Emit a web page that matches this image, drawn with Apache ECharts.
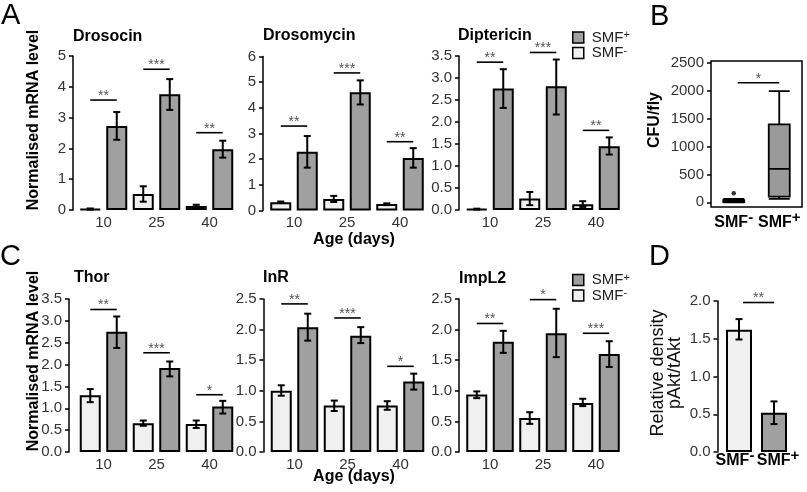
<!DOCTYPE html>
<html>
<head>
<meta charset="utf-8">
<script src="https://cdn.jsdelivr.net/npm/echarts@6/dist/echarts.min.js"></script>
<style>html,body{margin:0;padding:0;background:#fff;}#c{width:807px;height:492px;}</style>
</head>
<body>
<div id="c"></div>
<script>
// ---------- DATA ----------
const ages = ['10', '25', '40'];
const groups = ['SMF-', 'SMF+'];

// Panel A
const drosocinMinus = [0.03, 0.52, 0.13];
const drosocinMinusErr = [[0.01, 0.05], [0.27, 0.77], [0.10, 0.17]];
const drosocinPlus = [2.73, 3.76, 1.97];
const drosocinPlusErr = [[2.28, 3.18], [3.25, 4.25], [1.70, 2.25]];
const drosocinSig = [3.57, 4.57, 2.51];
const drosocinStars = ['**', '***', '**'];

const drosomycinMinus = [0.32, 0.45, 0.25];
const drosomycinMinusErr = [[0.29, 0.35], [0.33, 0.57], [0.21, 0.28]];
const drosomycinPlus = [2.29, 4.61, 2.05];
const drosomycinPlusErr = [[1.67, 2.90], [4.13, 5.07], [1.67, 2.43]];
const drosomycinSig = [3.29, 5.36, 2.68];
const drosomycinStars = ['**', '***', '**'];

const diptericinMinus = [0.02, 0.26, 0.13];
const diptericinMinusErr = [[0.01, 0.03], [0.11, 0.41], [0.07, 0.20]];
const diptericinPlus = [2.76, 2.81, 1.45];
const diptericinPlusErr = [[2.32, 3.20], [2.17, 3.42], [1.26, 1.65]];
const diptericinSig = [3.36, 3.58, 1.81];
const diptericinStars = ['**', '***', '**'];

// Panel B
const cfuBoxes = [[0, 5, 20, 40, 60], [60, 100, 600, 1400, 2000]];
const cfuOutliers = [[0, 160]];
const cfuSig = [2150];
const cfuStars = ['*'];
const cfuTicks = [0, 500, 1000, 1500, 2000, 2500];

// Panel C
const thorMinus = [1.30, 0.655, 0.64];
const thorMinusErr = [[1.14, 1.44], [0.60, 0.72], [0.55, 0.72]];
const thorPlus = [2.75, 1.92, 1.04];
const thorPlusErr = [[2.38, 3.10], [1.73, 2.07], [0.88, 1.17]];
const thorSig = [3.26, 2.27, 1.31];
const thorStars = ['**', '***', '*'];

const inrMinus = [1.00, 0.76, 0.76];
const inrMinusErr = [[0.92, 1.09], [0.67, 0.84], [0.69, 0.83]];
const inrPlus = [2.04, 1.90, 1.15];
const inrPlusErr = [[1.82, 2.26], [1.78, 2.04], [1.02, 1.28]];
const inrSig = [2.42, 2.19, 1.40];
const inrStars = ['**', '***', '*'];

const impl2Minus = [0.94, 0.555, 0.80];
const impl2MinusErr = [[0.88, 0.99], [0.46, 0.65], [0.75, 0.87]];
const impl2Plus = [1.80, 1.94, 1.60];
const impl2PlusErr = [[1.62, 1.98], [1.55, 2.34], [1.39, 1.81]];
const impl2Sig = [2.10, 2.49, 1.94];
const impl2Stars = ['**', '*', '***'];

// Panel D
const aktValues = [1.62, 0.52];
const aktErr = [[1.49, 1.76], [0.37, 0.67]];
const aktSig = [1.98];
const aktStars = ['**'];

// ---------- STYLE / LAYOUT ----------
const FONT = '"Liberation Sans", Arial, sans-serif';
const WHITE = '#f0f0f0', GRAY = '#a0a0a0';
const BAR_W = 21, BAR_GAP_PX = 5.5;
const OFF = (BAR_W + BAR_GAP_PX) / 2;

const grouped = [
  {minus: drosocinMinus, minusErr: drosocinMinusErr, plus: drosocinPlus, plusErr: drosocinPlusErr, sig: drosocinSig, stars: drosocinStars,
   grid: {left: 77, top: 56, width: 159, height: 154}, max: 5, interval: 1, dec: 0, offset: 4, xMargin: 5},
  {minus: drosomycinMinus, minusErr: drosomycinMinusErr, plus: drosomycinPlus, plusErr: drosomycinPlusErr, sig: drosomycinSig, stars: drosomycinStars,
   grid: {left: 267.5, top: 56.5, width: 159, height: 154}, max: 6, interval: 1, dec: 0, offset: 4.5, xMargin: 5},
  {minus: diptericinMinus, minusErr: diptericinMinusErr, plus: diptericinPlus, plusErr: diptericinPlusErr, sig: diptericinSig, stars: diptericinStars,
   grid: {left: 463.5, top: 56, width: 159, height: 154}, max: 3.5, interval: 0.5, dec: 1, offset: 4.5, xMargin: 5},
  {minus: thorMinus, minusErr: thorMinusErr, plus: thorPlus, plusErr: thorPlusErr, sig: thorSig, stars: thorStars,
   grid: {left: 77, top: 299, width: 159, height: 153}, max: 3.5, interval: 0.5, dec: 1, offset: 8, xMargin: 5},
  {minus: inrMinus, minusErr: inrMinusErr, plus: inrPlus, plusErr: inrPlusErr, sig: inrSig, stars: inrStars,
   grid: {left: 268, top: 299, width: 159, height: 153}, max: 2.5, interval: 0.5, dec: 1, offset: 4.5, xMargin: 5},
  {minus: impl2Minus, minusErr: impl2MinusErr, plus: impl2Plus, plusErr: impl2PlusErr, sig: impl2Sig, stars: impl2Stars,
   grid: {left: 463.5, top: 299, width: 159, height: 153}, max: 2.5, interval: 0.5, dec: 1, offset: 4.5, xMargin: 5}
];

const tickLabelStyle = {color: '#333', fontSize: 15, fontFamily: FONT};
const smfRich = {
  m: {fontSize: 16, fontWeight: 'bold', fontFamily: FONT, color: '#000', lineHeight: 18},
  s: {fontSize: 15, fontWeight: 'bold', fontFamily: FONT, color: '#000', lineHeight: 15, padding: [0, 0, 10, 0]}
};
const smfFormatter = v => '{m|SMF}{s|' + (v === 'SMF-' ? '-' : '+') + '}';
// category items with a small horizontal nudge (label padding)
function smfCats(shift) {
  return groups.map((g, i) => ({value: g, textStyle: {padding: i === 0 ? [0, shift, 0, 0] : [0, 0, 0, shift]}}));
}

function errRender(off) {
  return function (params, api) {
    const side = api.value(3);
    const p1 = api.coord([api.value(0), api.value(1)]);
    const p2 = api.coord([api.value(0), api.value(2)]);
    const x = p1[0] + side * off;
    const st = {stroke: '#000', lineWidth: 2};
    return {type: 'group', children: [
      {type: 'line', shape: {x1: x, y1: p1[1], x2: x, y2: p2[1]}, style: st},
      {type: 'line', shape: {x1: x - 3.5, y1: p1[1], x2: x + 3.5, y2: p1[1]}, style: st},
      {type: 'line', shape: {x1: x - 3.5, y1: p2[1], x2: x + 3.5, y2: p2[1]}, style: st}
    ]};
  };
}
function sigRender(stars, mode) {
  return function (params, api) {
    const c = api.coord([api.value(0), api.value(1)]);
    let x1, x2;
    if (mode === 'pair') {
      x1 = c[0] + 4; x2 = c[0] + api.size([1, 0])[0];
    } else {
      x1 = c[0] - OFF; x2 = c[0] + OFF;
    }
    const y = c[1];
    return {type: 'group', children: [
      {type: 'line', shape: {x1: x1, y1: y, x2: x2, y2: y}, style: {stroke: '#000', lineWidth: 1.6}},
      {type: 'text', x: (x1 + x2) / 2, y: y - 4, style: {text: stars[params.dataIndex], fill: '#555',
        font: '14px ' + FONT, align: 'center', verticalAlign: 'middle', textAlign: 'center', textVerticalAlign: 'middle'}}
    ]};
  };
}
function yAxisBase(gi) {
  return {
    type: 'value', gridIndex: gi, splitLine: {show: false},
    axisLine: {show: true, lineStyle: {color: '#000', width: 1.5}},
    axisTick: {show: true, length: 4, lineStyle: {color: '#000', width: 1.5}},
    axisLabel: Object.assign({margin: 7}, tickLabelStyle)
  };
}

const grids = [], xAxes = [], yAxes = [], series = [];

function addGrouped(p, gi) {
  grids.push(p.grid);
  xAxes.push({type: 'category', gridIndex: gi, data: ages, axisLine: {show: false}, axisTick: {show: false},
    axisLabel: Object.assign({margin: p.xMargin, interval: 0}, tickLabelStyle)});
  const ya = yAxisBase(gi);
  ya.min = 0; ya.max = p.max; ya.interval = p.interval; ya.offset = p.offset;
  ya.axisLabel.formatter = v => v.toFixed(p.dec);
  yAxes.push(ya);
  series.push({type: 'bar', name: 'SMF-', xAxisIndex: gi, yAxisIndex: gi, data: p.minus, barWidth: BAR_W, barGap: (BAR_GAP_PX / BAR_W * 100) + '%',
    itemStyle: {color: WHITE, borderColor: '#000', borderWidth: 2}});
  series.push({type: 'bar', name: 'SMF+', xAxisIndex: gi, yAxisIndex: gi, data: p.plus, barWidth: BAR_W, barGap: (BAR_GAP_PX / BAR_W * 100) + '%',
    itemStyle: {color: GRAY, borderColor: '#000', borderWidth: 2}});
  const errData = p.minusErr.map((e, i) => [i, e[0], e[1], -1]).concat(p.plusErr.map((e, i) => [i, e[0], e[1], 1]));
  series.push({type: 'custom', xAxisIndex: gi, yAxisIndex: gi, data: errData, renderItem: errRender(OFF), z: 5, silent: true});
  series.push({type: 'custom', xAxisIndex: gi, yAxisIndex: gi, data: p.sig.map((y, i) => [i, y]), renderItem: sigRender(p.stars, 'group'), z: 5, silent: true});
}

// A1..A3 -> grids 0..2
addGrouped(grouped[0], 0);
addGrouped(grouped[1], 1);
addGrouped(grouped[2], 2);

// B -> grid 3
grids.push({left: 711, top: 61, width: 91, height: 146, show: true, borderColor: '#000', borderWidth: 1.5, backgroundColor: 'transparent'});
xAxes.push({type: 'category', gridIndex: 3, data: smfCats(0), axisLine: {show: false}, axisTick: {show: false},
  axisLabel: {margin: 7, interval: 0, hideOverlap: false, verticalAlign: 'middle', formatter: smfFormatter, rich: smfRich}});
(function () {
  const ya = yAxisBase(3);
  ya.min = -85; ya.max = 2540;
  ya.axisLine = {show: false};
  ya.axisTick.customValues = cfuTicks;
  ya.axisLabel.customValues = cfuTicks;
  ya.axisLabel.formatter = v => String(v);
  yAxes.push(ya);
})();
series.push({type: 'boxplot', xAxisIndex: 3, yAxisIndex: 3, data: cfuBoxes, boxWidth: [21, 21],
  itemStyle: {color: '#9a9a9a', borderColor: '#000', borderWidth: 1.8}});
series.push({type: 'scatter', xAxisIndex: 3, yAxisIndex: 3, data: cfuOutliers, symbolSize: 4.5, itemStyle: {color: '#000'}});
series.push({type: 'custom', xAxisIndex: 3, yAxisIndex: 3, data: cfuSig.map(y => [0, y]), renderItem: sigRender(cfuStars, 'pair'), z: 5, silent: true});

// C1..C3 -> grids 4..6
addGrouped(grouped[3], 4);
addGrouped(grouped[4], 5);
addGrouped(grouped[5], 6);

// D -> grid 7
grids.push({left: 721.5, top: 301, width: 70, height: 151});
xAxes.push({type: 'category', gridIndex: 7, data: smfCats(8), axisLine: {show: false}, axisTick: {show: false},
  axisLabel: {margin: 0, interval: 0, hideOverlap: false, verticalAlign: 'middle', formatter: smfFormatter, rich: smfRich}});
(function () {
  const ya = yAxisBase(7);
  ya.min = 0; ya.max = 2; ya.interval = 0.5; ya.offset = 4;
  ya.axisLabel.formatter = v => v.toFixed(1);
  yAxes.push(ya);
})();
series.push({type: 'bar', name: 'pAkt', xAxisIndex: 7, yAxisIndex: 7, barWidth: 26,
  data: aktValues.map((v, i) => ({value: v, itemStyle: {color: i === 0 ? WHITE : GRAY}})),
  itemStyle: {borderColor: '#000', borderWidth: 2}});
series.push({type: 'custom', xAxisIndex: 7, yAxisIndex: 7, data: aktErr.map((e, i) => [i, e[0], e[1], 0]), renderItem: errRender(0), z: 5, silent: true});
series.push({type: 'custom', xAxisIndex: 7, yAxisIndex: 7, data: aktSig.map(y => [0, y]), renderItem: sigRender(aktStars, 'pair'), z: 5, silent: true});

// ---------- TEXT ----------
function txt(text, x, y, font, opts) {
  opts = opts || {};
  return {type: 'text', x: x, y: y, rotation: opts.rot || 0, silent: true,
    style: {text: text, font: font, fill: opts.fill || '#000', lineHeight: opts.lh,
      align: opts.align || 'left', textAlign: opts.align || 'left', verticalAlign: 'middle', textVerticalAlign: 'middle'}};
}
const letterFont = '29px ' + FONT;
const titleFont = 'bold 16px ' + FONT;
const graphics = [
  txt('A', 1, 16, letterFont), txt('B', 650, 17, letterFont), txt('C', 0, 257, letterFont), txt('D', 649, 257, letterFont),
  txt('Drosocin', 73, 37, titleFont), txt('Drosomycin', 263, 36, titleFont), txt('Diptericin', 458, 36, titleFont),
  txt('Thor', 74, 278, titleFont), txt('InR', 263, 278, titleFont), txt('ImpL2', 459, 279, titleFont),
  txt('Normalised mRNA level', 34, 120, 'bold 16px ' + FONT, {rot: Math.PI / 2, align: 'center'}),
  txt('Normalised mRNA level', 34, 361, 'bold 16px ' + FONT, {rot: Math.PI / 2, align: 'center'}),
  txt('Age (days)', 354, 240, 'bold 16px ' + FONT, {align: 'center'}),
  txt('Age (days)', 354, 477, 'bold 16px ' + FONT, {align: 'center'}),
  txt('CFU/fly', 655, 120, 'bold 16px ' + FONT, {rot: Math.PI / 2, align: 'center'}),
  txt('Relative density\npAkt/tAkt', 667, 373, '18px ' + FONT, {rot: Math.PI / 2, align: 'center', lh: 17, fill: '#111'})
];

const legendRich = {
  m: {fontSize: 15, fontFamily: FONT, color: '#222', lineHeight: 16},
  s: {fontSize: 11, fontFamily: FONT, color: '#222', verticalAlign: 'top', lineHeight: 6}
};
function legendAt(top) {
  return {data: ['SMF+', 'SMF-'], orient: 'vertical', left: 572, top: top, itemWidth: 11, itemHeight: 11, itemGap: 0,
    icon: 'rect', selectedMode: false, padding: 0,
    itemStyle: {borderColor: '#000', borderWidth: 1.5},
    formatter: n => '{m|SMF}{s|' + (n === 'SMF-' ? '-' : '+') + '}',
    textStyle: {padding: [0, 0, 0, 3], rich: legendRich}};
}

const chart = echarts.init(document.getElementById('c'), null, {renderer: 'canvas'});
chart.setOption({
  animation: false,
  backgroundColor: '#fff',
  grid: grids, xAxis: xAxes, yAxis: yAxes, series: series,
  legend: [legendAt(29.5), legendAt(272)],
  graphic: graphics
});
</script>
</body>
</html>
